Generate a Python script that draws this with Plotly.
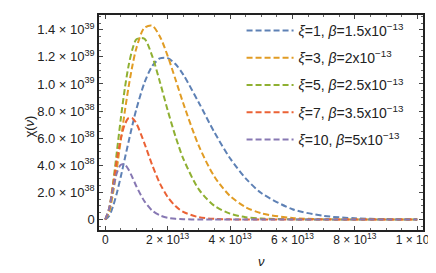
import plotly.graph_objects as go

# frequency grid in units of 1e13
NU = [0, 0.125, 0.25, 0.375, 0.5, 0.625, 0.75, 0.875, 1.0, 1.25, 1.5, 1.75, 2.0,
      2.25, 2.5, 3.0, 3.5, 4.0, 4.5, 5.0, 6.0, 7.0, 8.0, 9.0, 10.0]

# chi(nu) in units of 1e38
CHI_XI1 = [0, 0.27, 0.98, 1.98, 3.18, 4.47, 5.76, 7.01, 8.16, 10.05, 11.30, 11.89, 11.91,
           11.47, 10.69, 8.62, 6.43, 4.52, 3.04, 1.96, 0.76, 0.27, 0.09, 0.03, 0.01]
CHI_XI3 = [0, 0.55, 1.95, 3.82, 5.88, 7.94, 9.81, 11.40, 12.66, 14.13, 14.31, 13.51, 12.08,
           10.35, 8.58, 5.43, 3.16, 1.74, 0.91, 0.46, 0.11, 0.02, 0.005, 0, 0]
CHI_XI5 = [0, 0.79, 2.68, 5.05, 7.47, 9.63, 11.37, 12.59, 13.30, 13.35, 12.09, 10.17, 8.07,
           6.14, 4.50, 2.22, 1.01, 0.43, 0.17, 0.07, 0.01, 0, 0, 0, 0]
CHI_XI7 = [0, 0.81, 2.54, 4.42, 5.98, 7.00, 7.49, 7.47, 7.08, 5.66, 4.05, 2.67, 1.66,
           0.99, 0.56, 0.17, 0.05, 0.01, 0, 0, 0, 0, 0, 0, 0]
CHI_XI10 = [0, 0.81, 2.26, 3.45, 4.04, 4.05, 3.67, 3.08, 2.44, 1.37, 0.67, 0.31, 0.13,
            0.05, 0.02, 0, 0, 0, 0, 0, 0, 0, 0, 0, 0]

SERIES = [CHI_XI1, CHI_XI3, CHI_XI5, CHI_XI7, CHI_XI10]
NAMES = ["<i>ξ</i>=1, <i>β</i>=1.5x10<sup>−13</sup>",
         "<i>ξ</i>=3, <i>β</i>=2x10<sup>−13</sup>",
         "<i>ξ</i>=5, <i>β</i>=2.5x10<sup>−13</sup>",
         "<i>ξ</i>=7, <i>β</i>=3.5x10<sup>−13</sup>",
         "<i>ξ</i>=10, <i>β</i>=5x10<sup>−13</sup>"]
COLORS = ["#5E81B5", "#E19C24", "#8FB032", "#EB6235", "#8778B3"]

X_TICKS = [0, 2, 4, 6, 8, 10]
X_TICKTEXT = ["0", "2 × 10<sup>13</sup>", "4 × 10<sup>13</sup>", "6 × 10<sup>13</sup>",
              "8 × 10<sup>13</sup>", "1 × 10<sup>14</sup>"]
Y_TICKS = [0, 2, 4, 6, 8, 10, 12, 14]
Y_TICKTEXT = ["0", "2.0 × 10<sup>38</sup>", "4.0 × 10<sup>38</sup>", "6.0 × 10<sup>38</sup>",
              "8.0 × 10<sup>38</sup>", "1.0 × 10<sup>39</sup>", "1.2 × 10<sup>39</sup>",
              "1.4 × 10<sup>39</sup>"]

fig = go.Figure()
for i, (ys, name, col) in enumerate(zip(SERIES, NAMES, COLORS)):
    fig.add_trace(go.Scatter(
        x=NU, y=ys, name=name, mode="lines", legendgroup=str(i),
        line=dict(color=col, width=2, dash="6px,3px", shape="spline", smoothing=0.8),
    ))

FAM = "Liberation Sans, Arial, sans-serif"
font = dict(family=FAM, size=13, color="#222")
axis_common = dict(showline=True, linecolor="#222", linewidth=1.5, mirror="ticks",
                   ticks="inside", ticklen=4, tickcolor="#444", tickwidth=1,
                   showgrid=False, zeroline=False)

fig.update_layout(
    width=436, height=273,
    margin=dict(l=91, r=21, t=5, b=51),
    paper_bgcolor="white", plot_bgcolor="white",
    font=font,
    showlegend=True,
    legend=dict(x=0.44, y=1.0, xanchor="left", yanchor="top",
                bgcolor="rgba(0,0,0,0)", borderwidth=0,
                font=dict(family=FAM, size=14, color="#222"),
                traceorder="grouped", tracegroupgap=6, itemwidth=47),
    xaxis=dict(range=[-0.2, 10.185], tickvals=X_TICKS, ticktext=X_TICKTEXT,
               tickfont=dict(family=FAM, size=12, color="#222"), ticklabelstandoff=-2,
               minor=dict(dtick=0.5, tick0=0, ticks="inside", ticklen=2, tickcolor="#666"),
               **axis_common),
    yaxis=dict(range=[-0.774, 15.09], tickvals=Y_TICKS, ticktext=Y_TICKTEXT,
               tickfont=font,
               minor=dict(dtick=0.5, tick0=0, ticks="inside", ticklen=2, tickcolor="#666"),
               **axis_common),
    annotations=[
        dict(text="χ(<i>ν</i>)", xref="paper", yref="paper", x=-0.243, y=0.48,
             showarrow=False, textangle=-90, font=dict(size=13, color="#222", family=FAM)),
        dict(text="<i>ν</i>", xref="paper", yref="paper", x=0.5, y=-0.19,
             showarrow=False, font=dict(size=13, color="#222", family=FAM)),
    ],
)

fig.write_html("out.html")
